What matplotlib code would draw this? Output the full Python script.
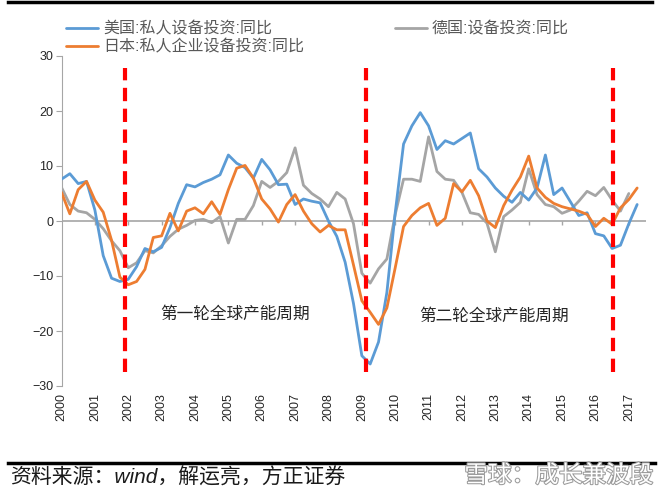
import numpy as np
import pandas as pd
import matplotlib
matplotlib.use('Agg')
import matplotlib.pyplot as plt
import matplotlib.patheffects as pe
from matplotlib.lines import Line2D

plt.rcParams['font.family'] = ['Liberation Sans', 'Noto Sans CJK SC', 'DejaVu Sans']

# quarterly readings, 2000Q1 onwards
quarters = pd.period_range('2000Q1', '2017Q2', freq='Q')

us_capex = [7.6, 8.6, 6.8, 7.2, 2.0, -6.3, -10.4, -11.0, -10.6, -8.3, -5.0, -5.6,
            -4.8, -1.2, 3.2, 6.6, 6.2, 7.0, 7.6, 8.4, 12.0, 10.5, 9.7, 7.8,
            11.2, 9.3, 6.6, 6.7, 3.0, 4.0, 3.6, 3.3, 0.0, -2.8, -7.5, -15.0,
            -24.5, -26.0, -22.0, -13.0, 1.5, 14.0, 17.3, 19.7, 17.3, 13.0, 14.6, 14.0,
            15.0, 16.0, 9.5, 8.0, 6.0, 4.5, 3.4, 5.2, 3.8, 6.0, 12.0, 4.8,
            6.0, 3.5, 1.0, 1.5, -2.3, -2.7, -5.0, -4.4, -0.5, 3.0]

jp_capex = [5.2, 1.3, 5.7, 7.2, 3.8, 1.6, -3.5, -10.2, -11.6, -11.0, -8.8, -3.0,
            -2.7, 1.4, -1.8, 1.8, 2.4, 1.3, 3.5, 1.2, 5.7, 9.6, 10.1, 7.8,
            4.0, 2.2, -0.2, 3.0, 4.8, 1.8, -0.5, -2.0, -0.8, -1.6, -1.6, -8.0,
            -14.5, -16.6, -18.8, -15.8, -8.5, -1.0, 1.0, 2.4, 3.2, -0.8, 0.5, 6.8,
            5.3, 7.4, 4.6, 0.0, -1.2, 2.8, 5.6, 8.0, 11.8, 6.0, 4.3, 3.2,
            2.6, 2.2, 1.8, 1.2, -1.0, 0.5, -0.6, 2.4, 3.9, 6.0]

de_capex = [6.1, 3.0, 1.8, 1.5, 0.3, -1.4, -3.6, -5.4, -8.5, -7.6, -5.4, -5.8,
            -4.5, -2.8, -1.5, -0.8, 0.1, 0.3, -0.3, 0.8, -4.0, 0.3, 0.3, 2.8,
            7.2, 6.1, 7.2, 8.8, 13.3, 6.5, 5.0, 4.0, 2.6, 5.2, 4.0, -0.5,
            -9.5, -11.3, -8.7, -6.9, 1.2, 7.6, 7.6, 7.2, 15.3, 9.0, 7.6, 7.4,
            5.2, 1.5, 1.2, -0.4, -5.6, 0.8, 2.0, 3.4, 9.5, 4.8, 3.0, 2.6,
            1.4, 2.0, 3.6, 5.4, 4.6, 6.1, 3.8, 1.8, 5.0]

years = list(range(2000, 2018))
cycle_marks = [2001.9, 2009.13, 2016.52]
cycle_names = ['第一轮全球产能周期', '第二轮全球产能周期']
cycle_name_pos = [(2005.2, -17.0), (2012.95, -17.3)]

t = quarters.year + (quarters.quarter - 1) / 4.0

fig = plt.figure(figsize=(6.6, 4.88), dpi=100)
ax = fig.add_axes([61.5 / 660, 1 - 386 / 488, 584 / 660, 330 / 488])

grey_axis = '#A6A6A6'
line_kw = dict(lw=2, solid_joinstyle='round', solid_capstyle='round')
l_de, = ax.plot(t[:len(de_capex)], de_capex, color='#A5A5A5', label='德国:设备投资:同比',
                zorder=2, **line_kw)
l_us, = ax.plot(t[:len(us_capex)], us_capex, color='#5B9BD5', label='美国:私人设备投资:同比',
                zorder=3, **line_kw)
l_jp, = ax.plot(t[:len(jp_capex)], jp_capex, color='#ED7D31', label='日本:私人企业设备投资:同比',
                zorder=4, **line_kw)

ax.axhline(0, color=grey_axis, lw=1.2, zorder=1)
ax.vlines(years[1:], -0.8, 0, color=grey_axis, lw=1, zorder=1)

ax.vlines(cycle_marks, -27.5, 27.8, colors='#FF0000', lw=3,
          linestyles=(0, (3.2, 1.8)), zorder=6)
for name, (x, y) in zip(cycle_names, cycle_name_pos):
    ax.text(x, y, name, ha='center', va='center', fontsize=12, color='#262626',
            family=['Noto Sans CJK SC', 'DejaVu Sans'])

ax.set_xlim(2000, 2017.5)
ax.set_ylim(-30, 30)
ax.set_xticks(years)
ax.set_xticklabels([str(y) for y in years], rotation=90)
ax.tick_params(axis='x', length=0, pad=5, labelsize=9, labelcolor='#262626')
ax.set_yticks(range(-30, 31, 10))
ax.tick_params(axis='y', direction='out', length=4, color=grey_axis, labelsize=9,
               pad=2, labelcolor='#262626')
for s in ['top', 'right', 'bottom']:
    ax.spines[s].set_visible(False)
ax.spines['left'].set_color(grey_axis)

fig.legend(handles=[l_us, l_jp, l_de], loc='upper left', ncol=2,
           bbox_to_anchor=(60 / 660, 1 - 15 / 488), frameon=False, fontsize=11.5,
           handlelength=2.0, handletextpad=0.3, columnspacing=5.7, labelspacing=0.2,
           labelcolor='#595959', borderaxespad=0)

# header / footer rules
fig.add_artist(Line2D([0.012, 0.988], [0.995, 0.995], transform=fig.transFigure,
                      color='black', lw=2.5))
fig.add_artist(Line2D([0.012, 0.992], [1 - 463 / 488] * 2, transform=fig.transFigure,
                      color='black', lw=2.5))
fig.text(0.015, 1 - 478 / 488, '资料来源：wind，解运亮，方正证券', fontsize=15,
         style='italic', color='#1a1a1a', va='center')
fig.text(0.99, 1 - 476 / 488, '雪球：成长兼波段', fontsize=17, color='white',
         ha='right', va='center',
         path_effects=[pe.withStroke(linewidth=1.5, foreground='#9a9a9a')])

fig.savefig('out.png', dpi=100)
